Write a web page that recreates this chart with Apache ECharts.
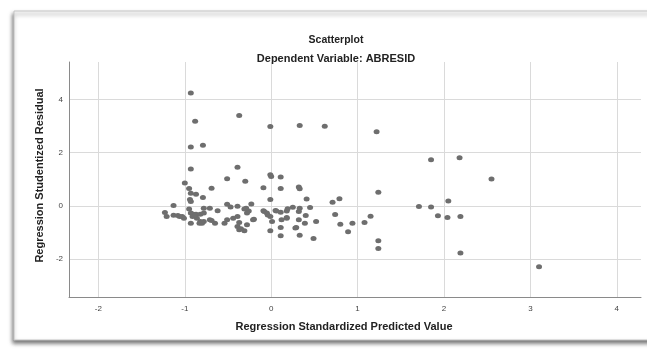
<!DOCTYPE html>
<html>
<head>
<meta charset="utf-8">
<script src="https://cdn.jsdelivr.net/npm/echarts@6/dist/echarts.min.js"></script>
<style>
  html, body { margin: 0; padding: 0; background: #fff; }
  #chart { width: 647px; height: 349px; }
</style>
</head>
<body>
<div id="chart"></div>
<script>
// 坐标轴刻度
const xTicks = [-2, -1, 0, 1, 2, 3, 4]
const yTicks = [-2, 0, 2, 4]

// 散点数据 [预测值, 残差]
const points = [
  [-0.93, 4.24], [-0.88, 3.18], [-0.37, 3.39], [-0.01, 2.98], [0.33, 3.02], [0.62, 2.99], [1.22, 2.78],
  [-0.93, 2.21], [-0.79, 2.28], [1.85, 1.73], [2.18, 1.81],
  [-0.93, 1.38], [-0.39, 1.45], [-0.51, 1.02], [-0.30, 0.92], [-0.01, 1.17], [0.00, 1.10], [0.11, 1.08], [2.55, 1.01],
  [-1.00, 0.86], [-0.95, 0.65], [-0.69, 0.66], [-0.09, 0.68], [0.11, 0.65], [0.32, 0.71], [0.33, 0.64],
  [-0.93, 0.47], [-0.87, 0.44], [-0.79, 0.31], [-0.94, 0.24], [-0.93, 0.16], [-0.01, 0.24], [0.41, 0.26],
  [1.24, 0.51], [0.79, 0.27], [0.71, 0.14], [2.05, 0.18],
  [-1.13, 0.01], [-0.51, 0.06], [-0.47, -0.04], [-0.39, -0.01], [-0.23, 0.07], [-0.29, -0.09], [-0.26, -0.19],
  [-0.08, -0.21], [-0.05, -0.27], [0.06, -0.19], [0.11, -0.24], [0.18, -0.19], [0.25, -0.05], [0.32, -0.21],
  [0.19, -0.11], [0.33, -0.09], [0.45, -0.06], [1.71, -0.02], [1.85, -0.04],
  [-1.23, -0.25], [-1.21, -0.40], [-1.13, -0.35], [-1.08, -0.36], [-1.03, -0.40], [-1.01, -0.46], [-0.95, -0.12],
  [-0.93, -0.27], [-0.90, -0.31], [-0.87, -0.31], [-0.91, -0.40], [-0.86, -0.46], [-0.82, -0.31], [-0.78, -0.27],
  [-0.78, -0.09], [-0.71, -0.09], [-0.62, -0.18], [-0.71, -0.52], [-0.78, -0.59], [-0.82, -0.59], [-0.93, -0.65],
  [-0.69, -0.55], [-0.54, -0.65], [-0.51, -0.52], [-0.44, -0.46], [-0.39, -0.40], [-0.37, -0.62], [-0.39, -0.77],
  [-0.37, -0.90], [-0.31, -0.93], [-0.28, -0.71], [-0.20, -0.50], [-0.28, -0.27], [-0.31, -0.12], [0.01, -0.59],
  [-0.01, -0.93], [0.11, -0.81], [0.11, -1.12], [0.18, -0.46], [0.28, -0.83], [0.32, -0.52], [-0.01, -0.40],
  [0.12, -0.52], [0.33, -1.10], [0.40, -0.36], [0.39, -0.65], [0.49, -1.22], [0.52, -0.59], [0.74, -0.32],
  [0.80, -0.69], [0.89, -0.97], [0.94, -0.65], [1.08, -0.62], [1.15, -0.39], [1.24, -1.31], [1.24, -1.60],
  [1.93, -0.37], [2.04, -0.44], [2.19, -0.40], [2.19, -1.77], [3.10, -2.28],
  [-0.83, -0.65], [-0.80, -0.65], [-0.65, -0.65], [-0.35, -0.86], [-0.21, -0.52], [-1.06, -0.40], [-0.09, -0.18],
  [-0.04, -0.34], [0.05, -0.17], [0.29, -0.81], [0.18, -0.44]
]

const chart = echarts.init(document.getElementById("chart"))
const option = {
  animation: false,
  textStyle: { fontFamily: "Liberation Sans, Arial, sans-serif" },
  graphic: [
    {
      type: "rect",
      z: -10,
      shape: { x: 14, y: 11, width: 660, height: 329 },
      style: {
        fill: "#fff",
        stroke: "#c4c4c4",
        lineWidth: 1,
        shadowBlur: 4,
        shadowOffsetX: -1,
        shadowOffsetY: 3,
        shadowColor: "rgba(0,0,0,0.55)"
      }
    }
  ],
  title: [
    {
      text: "Scatterplot",
      left: 331,
      top: 30,
      textAlign: "center",
      textStyle: { fontSize: 10.5, fontWeight: "bold", color: "#222" }
    },
    {
      text: "Dependent Variable: ABRESID",
      left: 331,
      top: 48,
      textAlign: "center",
      textStyle: { fontSize: 11, fontWeight: "bold", color: "#222" }
    }
  ],
  grid: { left: 69, right: 6, top: 62, bottom: 52 },
  xAxis: {
    type: "value",
    min: -2.34,
    max: 4.28,
    name: "Regression Standardized Predicted Value",
    nameLocation: "middle",
    nameGap: 24,
    nameTextStyle: { fontSize: 11, fontWeight: "bold", color: "#222", padding: [0, 22, 0, 0] },
    axisLine: { show: true, onZero: false, lineStyle: { color: "#8a8a8a", width: 1 } },
    axisTick: { show: false, customValues: xTicks },
    axisLabel: { customValues: xTicks, fontSize: 8, color: "#444", margin: 8 },
    splitLine: { show: true, lineStyle: { color: "#dadada", width: 1 } }
  },
  yAxis: {
    type: "value",
    min: -3.42,
    max: 5.4,
    name: "Regression Studentized Residual",
    nameLocation: "middle",
    nameGap: 21,
    nameRotate: 90,
    nameTextStyle: { fontSize: 11, fontWeight: "bold", color: "#222", padding: [0, 0, 0, 8] },
    axisLine: { show: true, onZero: false, lineStyle: { color: "#8a8a8a", width: 1 } },
    axisTick: { show: false, customValues: yTicks },
    axisLabel: { customValues: yTicks, fontSize: 8, color: "#444", margin: 6 },
    splitLine: { show: true, lineStyle: { color: "#dadada", width: 1 } }
  },
  series: [
    {
      type: "scatter",
      data: points,
      symbol: "circle",
      symbolSize: [6, 5],
      itemStyle: { color: "#6e6e6e", opacity: 1 }
    }
  ]
}
chart.setOption(option)
</script>
</body>
</html>
